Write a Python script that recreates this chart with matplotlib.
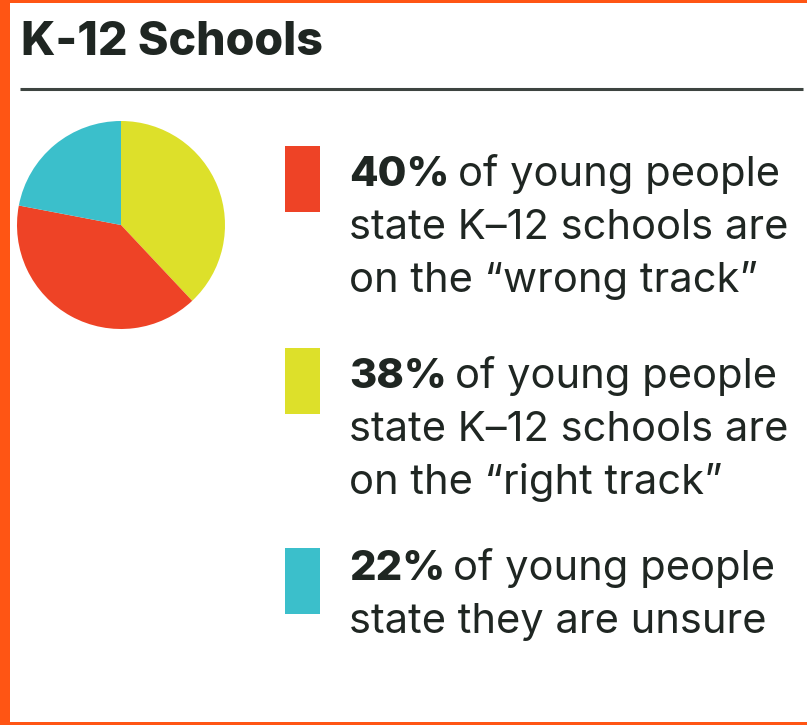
import matplotlib
matplotlib.use("Agg")
import matplotlib.pyplot as plt
from matplotlib.patches import Rectangle

# ---- data ----
title = "K-12 Schools"
categories = ["right track", "wrong track", "unsure"]
values = [38, 40, 22]
colors = ["#DDE02A", "#EE4326", "#3BBFCB"]
legend_order = [1, 0, 2]  # wrong, right, unsure
legend_rest = [
    ["of young people", "state K\u201312 schools are", "on the \u201cwrong track\u201d"],
    ["of young people", "state K\u201312 schools are", "on the \u201cright track\u201d"],
    ["of young people", "state they are unsure"],
]

W, H = 807, 725
DPI = 100
fig = plt.figure(figsize=(W / DPI, H / DPI), dpi=DPI)
fig.patch.set_facecolor("white")

FONT = "Inter"
TXT = "#1F2622"
ORANGE = "#FF5514"
fs = 30.0  # points

# overlay axes in pixel coords
ov = fig.add_axes([0, 0, 1, 1])
ov.set_xlim(0, W)
ov.set_ylim(H, 0)
ov.axis("off")

# border
ov.add_patch(Rectangle((0, 0), 10, H, color=ORANGE, lw=0))
ov.add_patch(Rectangle((0, 0), W, 3, color=ORANGE, lw=0))
ov.add_patch(Rectangle((0, H - 3.5), W, 3.5, color=ORANGE, lw=0))

# title and rule
ov.text(21, 55, title, fontsize=33.5, fontweight="heavy", family=FONT,
        color=TXT, va="baseline", ha="left")
ov.plot([20, 803], [89, 89], color="#3D4440", lw=2.2, solid_capstyle="butt")

# pie
cx, cy, r = 121, 225, 104
pax = fig.add_axes([(cx - r) / W, (H - cy - r) / H, 2 * r / W, 2 * r / H])
pax.pie(values, colors=colors, startangle=90, counterclock=False,
        wedgeprops=dict(linewidth=0))
pax.set_xlim(-1, 1)
pax.set_ylim(-1, 1)
pax.set_aspect("auto")
pax.axis("off")

# legend blocks
rect_tops = [146, 348, 548]
first_baselines = [186, 388, 580]
line_gap = 53
tx = 349
for k, idx in enumerate(legend_order):
    ov.add_patch(Rectangle((285, rect_tops[k]), 35, 66, color=colors[idx], lw=0))
    b = ov.text(tx, first_baselines[k], f"{values[idx]}%", fontsize=fs,
                fontweight="heavy", family=FONT, color=TXT, va="baseline")
    lines = legend_rest[k]
    ov.annotate(lines[0], xy=(1, 0), xycoords=b, xytext=(6, 0),
                textcoords="offset points", fontsize=fs, family=FONT,
                color=TXT, va="bottom", ha="left")
    for j, ln in enumerate(lines[1:], start=1):
        ov.text(tx, first_baselines[k] + j * line_gap, ln, fontsize=fs,
                family=FONT, color=TXT, va="baseline", ha="left")

fig.savefig("out.png", dpi=DPI, facecolor="white")
